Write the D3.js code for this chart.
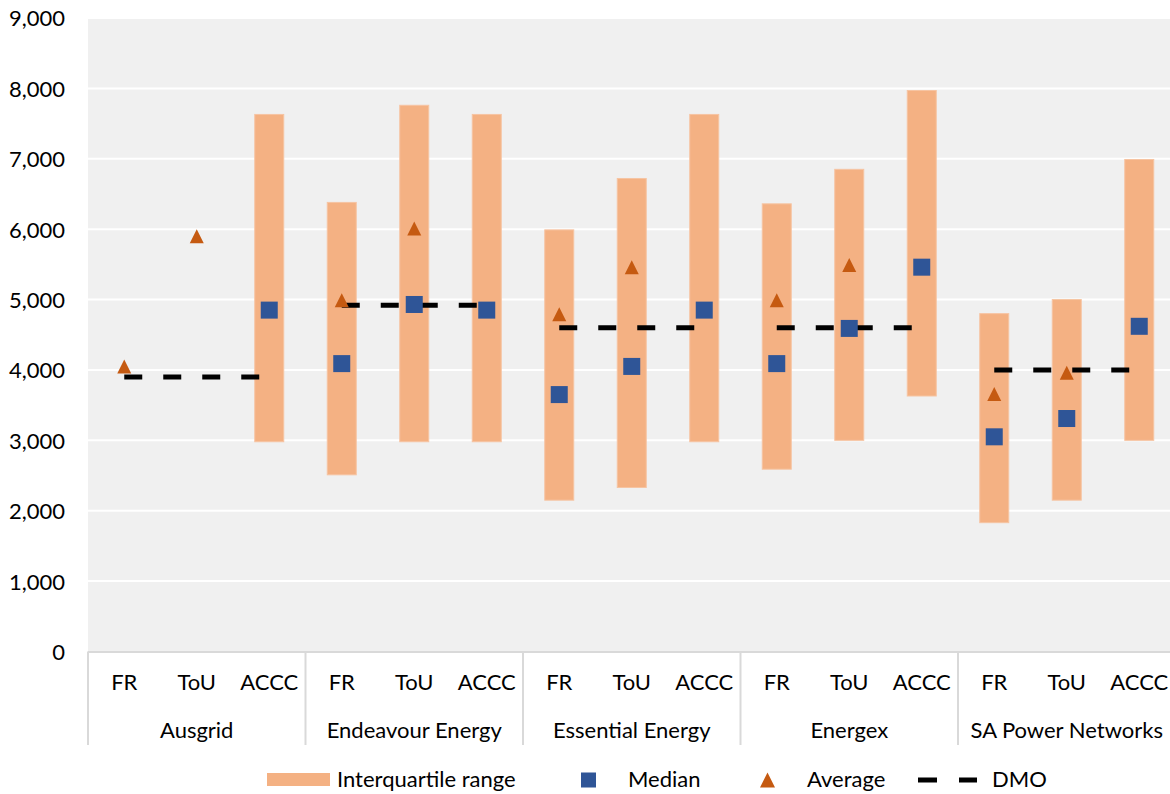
<!DOCTYPE html>
<html>
<head>
<meta charset="utf-8">
<script src="https://cdn.jsdelivr.net/npm/d3@7"></script>
<style>
  html, body { margin: 0; padding: 0; background: #ffffff; }
  svg { display: block; font-family: Lato, "Open Sans", sans-serif; }
</style>
</head>
<body>
<svg id="chart" width="1170" height="794"></svg>
<script>
// Distribution networks and the three offer types shown for each
const groups = ["Ausgrid", "Endeavour Energy", "Essential Energy", "Energex", "SA Power Networks"];
const tariffs = ["FR", "ToU", "ACCC"];

// Interquartile range (lower / upper quartile), per network, per offer type
const iqrLow  = [[null, null, 2980], [2510, 2980, 2980], [2150, 2330, 2980], [2590, 3000, 3630], [1830, 2150, 3000]];
const iqrHigh = [[null, null, 7630], [6380, 7760, 7630], [5990, 6720, 7630], [6360, 6850, 7970], [4800, 5000, 6990]];

// Median and average values
const median  = [[null, null, 4850], [4090, 4930, 4850], [3650, 4050, 4850], [4090, 4590, 5460], [3050, 3310, 4620]];
const average = [[4050, 5900, null], [4990, 6010, null], [4790, 5460, null], [4990, 5490, null], [3660, 3960, null]];

// Default market offer for each network
const dmo = [3900, 4920, 4600, 4600, 4000];

const yTicks = [0, 1000, 2000, 3000, 4000, 5000, 6000, 7000, 8000, 9000];

const colors = {
  bg: "#f0f0f0",
  grid: "#ffffff",
  iqr: "#f4b183",
  iqrEdge: "#f6c4a2",
  median: "#2f5597",
  average: "#c55a11",
  dmo: "#000000",
  axis: "#d9d9d9",
  text: "#000000"
};

const svg = d3.select("#chart");
const plotLeft = 88, plotRight = 1175.5, plotTop = 18, plotBottom = 651.5;

const keys = [];
groups.forEach((g, gi) => tariffs.forEach((t, ti) => keys.push({ g, gi, t, ti, key: g + "|" + t })));

const x = d3.scaleBand().domain(keys.map(k => k.key)).range([plotLeft, plotRight]).padding(0);
const xGroup = d3.scaleBand().domain(groups).range([plotLeft, plotRight]).padding(0);
const y = d3.scaleLinear().domain([0, 9000]).range([plotBottom, plotTop]);

// Plot background
svg.append("rect")
  .attr("x", plotLeft).attr("y", plotTop)
  .attr("width", plotRight - plotLeft).attr("height", plotBottom - plotTop)
  .attr("fill", colors.bg);

// Gridlines
svg.append("g")
  .selectAll("line")
  .data(yTicks.filter(d => d > 0))
  .join("line")
  .attr("x1", plotLeft).attr("x2", plotRight)
  .attr("y1", d => y(d)).attr("y2", d => y(d))
  .attr("stroke", colors.grid).attr("stroke-width", 2);

// Y axis labels
const yAxis = d3.axisLeft(y).tickValues(yTicks).tickSize(0).tickPadding(0)
  .tickFormat(d3.format(","));
const yg = svg.append("g").attr("transform", `translate(${plotLeft - 23},0)`).call(yAxis);
yg.select(".domain").remove();
yg.selectAll("text")
  .attr("font-family", "Lato, 'Open Sans', sans-serif")
  .attr("font-size", 22)
  .attr("fill", colors.text)
  .attr("dy", "0.36em");

const bw = x.bandwidth() * 0.4;
const cx = k => x(k.key) + x.bandwidth() / 2;

// Interquartile range bars
svg.append("g")
  .selectAll("rect")
  .data(keys.filter(k => iqrLow[k.gi][k.ti] != null))
  .join("rect")
  .attr("x", k => cx(k) - bw / 2)
  .attr("width", bw)
  .attr("y", k => y(iqrHigh[k.gi][k.ti]))
  .attr("height", k => y(iqrLow[k.gi][k.ti]) - y(iqrHigh[k.gi][k.ti]))
  .attr("fill", colors.iqr)
  .attr("stroke", colors.iqrEdge)
  .attr("stroke-width", 1);

// DMO dashed lines, from the first to the last offer type within each network
const dmoLine = d3.line().x(d => d[0]).y(d => d[1]);
svg.append("g")
  .selectAll("path")
  .data(groups.map((g, gi) => [
    [x(g + "|" + tariffs[0]) + x.bandwidth() / 2, y(dmo[gi])],
    [x(g + "|" + tariffs[2]) + x.bandwidth() / 2, y(dmo[gi])]
  ]))
  .join("path")
  .attr("d", dmoLine)
  .attr("stroke", colors.dmo)
  .attr("stroke-width", 5)
  .attr("stroke-dasharray", "18,21")
  .attr("fill", "none");

// Median squares
const ms = 17;
svg.append("g")
  .selectAll("rect")
  .data(keys.filter(k => median[k.gi][k.ti] != null))
  .join("rect")
  .attr("x", k => cx(k) - ms / 2)
  .attr("y", k => y(median[k.gi][k.ti]) - ms / 2)
  .attr("width", ms).attr("height", ms)
  .attr("fill", colors.median);

// Average triangles
const tri = (px, py, s) => `M${px - s / 2},${py + s / 2}L${px},${py - s / 2}L${px + s / 2},${py + s / 2}Z`;
svg.append("g")
  .selectAll("path")
  .data(keys.filter(k => average[k.gi][k.ti] != null))
  .join("path")
  .attr("d", k => tri(cx(k), y(average[k.gi][k.ti]), 14))
  .attr("fill", colors.average);

// Category axis: baseline, group dividers, labels
svg.append("line")
  .attr("x1", plotLeft).attr("x2", plotRight)
  .attr("y1", plotBottom + 0.5).attr("y2", plotBottom + 0.5)
  .attr("stroke", colors.axis).attr("stroke-width", 2);

svg.append("g")
  .selectAll("line")
  .data(groups.map(g => xGroup(g)).concat([plotRight]))
  .join("line")
  .attr("x1", d => d).attr("x2", d => d)
  .attr("y1", plotBottom).attr("y2", 745)
  .attr("stroke", colors.axis).attr("stroke-width", 2);

svg.append("g")
  .selectAll("text")
  .data(keys)
  .join("text")
  .attr("x", k => cx(k))
  .attr("y", 690)
  .attr("text-anchor", "middle")
  .attr("font-size", 22)
  .attr("fill", colors.text)
  .text(k => k.t);

svg.append("g")
  .selectAll("text")
  .data(groups)
  .join("text")
  .attr("x", g => xGroup(g) + xGroup.bandwidth() / 2)
  .attr("y", 738)
  .attr("text-anchor", "middle")
  .attr("font-size", 22)
  .attr("fill", colors.text)
  .text(g => g);

// Legend
const lg = svg.append("g").attr("font-size", 22).attr("fill", colors.text);
lg.append("rect").attr("x", 267).attr("y", 773).attr("width", 63).attr("height", 13).attr("fill", colors.iqr);
lg.append("text").attr("x", 337).attr("y", 787).text("Interquartile range");
lg.append("rect").attr("x", 581).attr("y", 772.5).attr("width", 15).attr("height", 15).attr("fill", colors.median);
lg.append("text").attr("x", 628).attr("y", 787).text("Median");
lg.append("path").attr("d", tri(767.5, 780, 15)).attr("fill", colors.average);
lg.append("text").attr("x", 807).attr("y", 787).text("Average");
lg.append("line").attr("x1", 918).attr("x2", 977).attr("y1", 780).attr("y2", 780)
  .attr("stroke", colors.dmo).attr("stroke-width", 5).attr("stroke-dasharray", "19,22");
lg.append("text").attr("x", 992).attr("y", 787).text("DMO");
</script>
</body>
</html>
